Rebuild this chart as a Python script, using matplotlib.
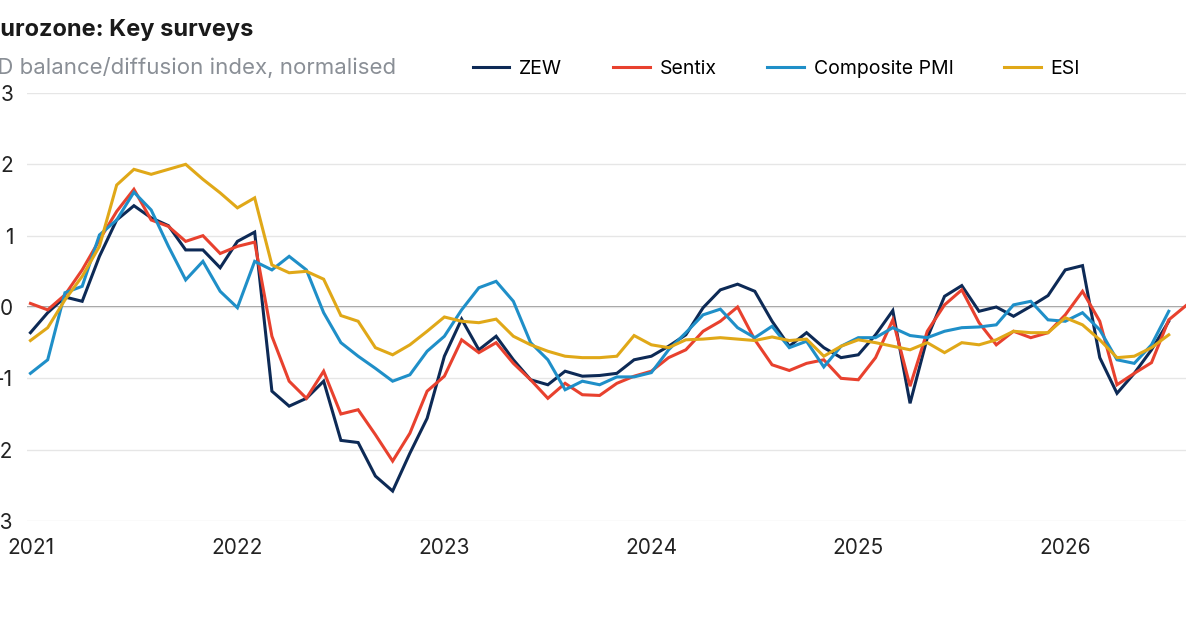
import matplotlib
matplotlib.use("Agg")
import matplotlib.pyplot as plt
import numpy as np

plt.rcParams['font.family'] = ['Inter', 'DejaVu Sans']

zew = [-0.36,-0.08,0.14,0.08,0.71,1.22,1.42,1.25,1.14,0.80,0.80,0.55,0.92,1.05,-1.18,-1.39,-1.28,-1.04,-1.87,-1.90,-2.37,-2.58,-2.05,-1.56,-0.69,-0.17,-0.60,-0.41,-0.74,-1.02,-1.09,-0.90,-0.97,
       -0.96,-0.93,-0.74,-0.69,-0.55,-0.39,-0.01,0.24,0.32,0.22,-0.20,-0.55,-0.36,-0.57,-0.71,-0.67,-0.39,-0.05,-1.35,-0.43,0.15,0.30,-0.06,0.0,-0.13,0.01,0.16,0.52,0.58,-0.71,-1.21,-0.93,-0.60,-0.20]
sentix = [0.05,-0.04,0.17,0.52,0.94,1.34,1.65,1.22,1.13,0.92,1.00,0.75,0.85,0.91,-0.41,-1.04,-1.28,-0.90,-1.50,-1.44,-1.79,-2.16,-1.77,-1.18,-0.97,-0.46,-0.64,-0.50,-0.79,-1.02,-1.28,-1.07,-1.23,
          -1.24,-1.07,-0.97,-0.90,-0.71,-0.60,-0.34,-0.20,0.0,-0.46,-0.81,-0.89,-0.79,-0.74,-1.00,-1.02,-0.71,-0.18,-1.11,-0.34,0.03,0.24,-0.22,-0.53,-0.34,-0.43,-0.36,-0.11,0.22,-0.20,-1.09,-0.93,-0.78,-0.18,0.02]
pmi = [-0.93,-0.74,0.20,0.29,1.01,1.22,1.61,1.36,0.85,0.38,0.64,0.22,-0.01,0.64,0.52,0.71,0.52,-0.08,-0.50,-0.69,-0.86,-1.04,-0.95,-0.62,-0.41,-0.04,0.27,0.36,0.08,-0.50,-0.74,-1.16,-1.04,
       -1.09,-0.98,-0.98,-0.92,-0.60,-0.36,-0.11,-0.03,-0.29,-0.43,-0.27,-0.57,-0.48,-0.84,-0.55,-0.43,-0.43,-0.29,-0.40,-0.43,-0.34,-0.29,-0.28,-0.25,0.03,0.08,-0.18,-0.20,-0.08,-0.32,-0.74,-0.79,-0.53,-0.06]
esi = [-0.47,-0.29,0.10,0.43,0.85,1.71,1.93,1.86,1.93,2.00,1.79,1.60,1.39,1.53,0.59,0.48,0.50,0.39,-0.12,-0.20,-0.57,-0.67,-0.53,-0.34,-0.14,-0.20,-0.22,-0.17,-0.41,-0.53,-0.62,-0.69,-0.71,
       -0.71,-0.69,-0.40,-0.53,-0.57,-0.46,-0.45,-0.43,-0.45,-0.47,-0.42,-0.47,-0.45,-0.69,-0.55,-0.46,-0.50,-0.55,-0.60,-0.50,-0.64,-0.50,-0.53,-0.46,-0.34,-0.36,-0.36,-0.15,-0.25,-0.46,-0.71,-0.69,-0.57,-0.39]

series = [("ZEW", zew, "#0d2a56"), ("Sentix", sentix, "#e8412e"),
          ("Composite PMI", pmi, "#1f8fc8"), ("ESI", esi, "#e0a818")]
year_labels = ["2021", "2022", "2023", "2024", "2025", "2026"]
yticks = [-3, -2, -1, 0, 1, 2, 3]

fig = plt.figure(figsize=(12, 6.28), dpi=100)
ax = fig.add_axes([27/1200, 1-521/628, (1186-27)/1200, 428/628])
for name, vals, col in series:
    ax.plot(np.arange(len(vals)), vals, color=col, lw=2.2, label=name, solid_joinstyle='miter')
ax.axhline(0, color="#888888", lw=1.2, zorder=0)
ax.set_xlim(-0.2, 67)
ax.set_ylim(-3, 3)
ax.set_yticks(yticks)
ax.set_yticklabels([str(v) for v in yticks], fontsize=15, color="#222222")
ax.set_xticks([12*i for i in range(len(year_labels))])
ax.set_xticklabels(year_labels, fontsize=15, color="#222222")
ax.tick_params(axis='both', length=0)
ax.tick_params(axis='y', pad=10)
ax.tick_params(axis='x', pad=12)
ax.grid(axis='y', color="#e6e6e6", lw=1)
for s in ax.spines.values():
    s.set_visible(False)

fig.text(-0.012, 1-30/628, "Eurozone: Key surveys", fontsize=17, fontweight='bold', color="#1a1a1a", va='center')
fig.text(-0.014, 1-68/628, "SD balance/diffusion index, normalised", fontsize=16, color="#8a8f96", va='center')
fig.legend(handles=ax.get_lines()[:4], loc='center left', bbox_to_anchor=(455/1200, 1-69/628),
           ncol=4, frameon=False, fontsize=14, handlelength=1.9, columnspacing=2.6, handletextpad=0.5)
fig.savefig("out.png", dpi=100)
